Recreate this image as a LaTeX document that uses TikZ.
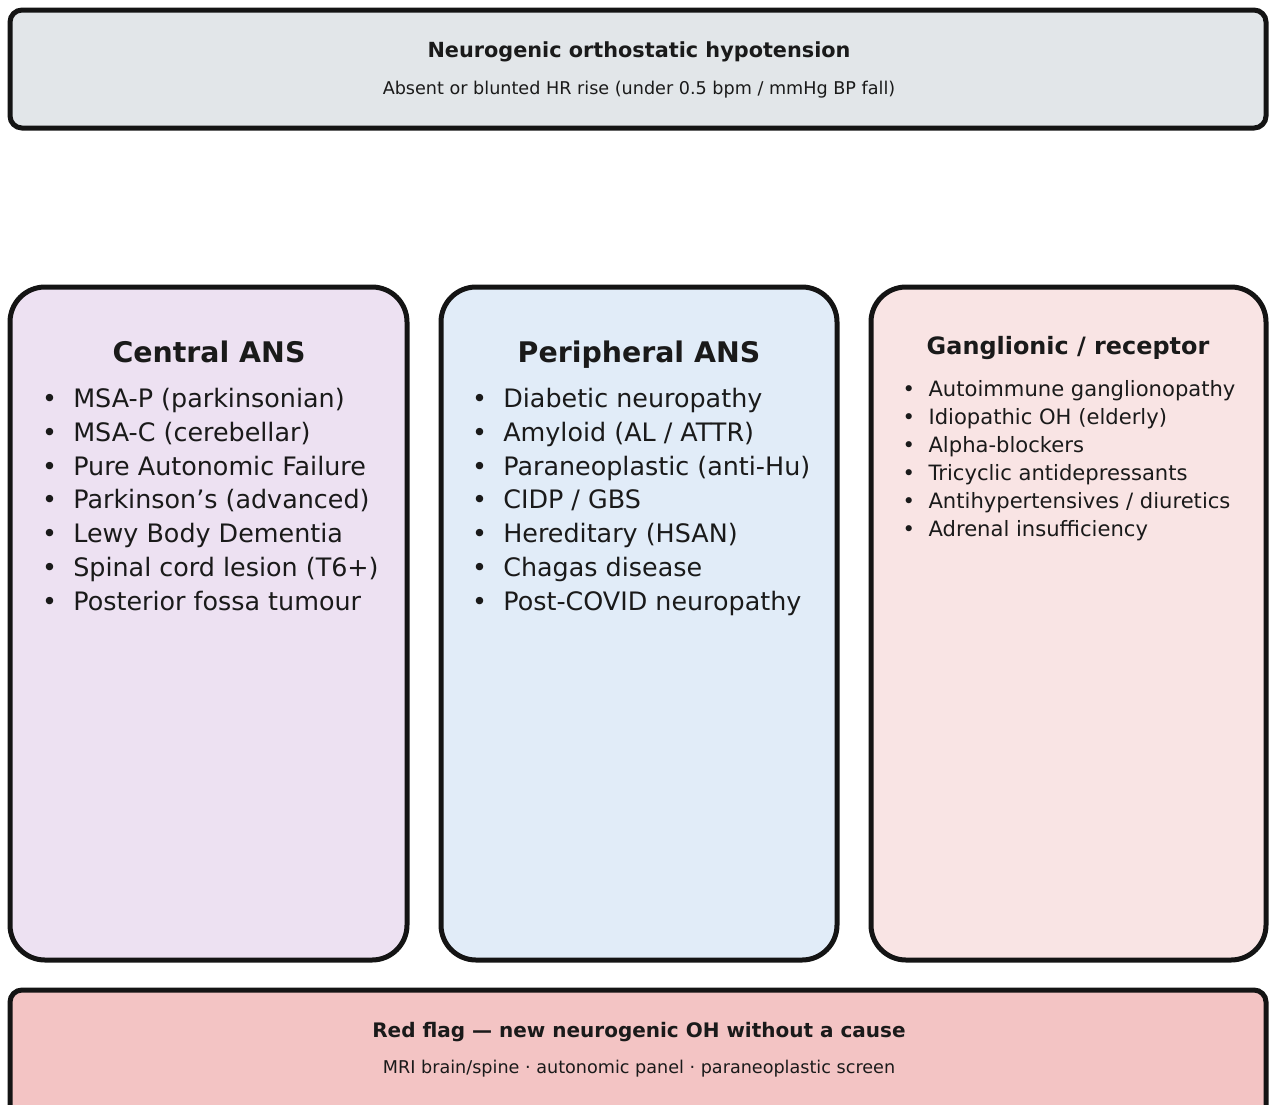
\documentclass[tikz,border=0pt]{standalone}
\usepackage{fontspec}
\setmainfont{DejaVu Sans}
\definecolor{edge}{HTML}{141414}
\definecolor{ink}{HTML}{1A1A1A}
\definecolor{topfill}{HTML}{E2E6E9}
\definecolor{cenfill}{HTML}{EDE1F2}
\definecolor{perfill}{HTML}{E1ECF8}
\definecolor{ganfill}{HTML}{F9E4E4}
\definecolor{redfill}{HTML}{F3C4C4}
\tikzset{
  panel/.style={draw=edge, line width=5pt, inner sep=0pt},
  bannerbox/.style={panel, rounded corners=12pt},
  colbox/.style={panel, rounded corners=35pt},
  headtxt/.style={anchor=base, inner sep=0pt, text=ink, font=\bfseries\fontsize{20.8}{24}\selectfont},
  redhead/.style={anchor=base, inner sep=0pt, text=ink, font=\bfseries\fontsize{20}{24}\selectfont},
  subtxt/.style={anchor=base, inner sep=0pt, text=ink, font=\fontsize{17.6}{21}\selectfont},
  coltitle/.style={anchor=base, inner sep=0pt, text=ink, font=\bfseries\fontsize{28.4}{32}\selectfont},
  smalltitle/.style={anchor=base, inner sep=0pt, text=ink, font=\bfseries\fontsize{23.9}{28}\selectfont},
  bigitem/.style={anchor=base west, inner sep=0pt, text=ink, font=\fontsize{25.4}{30}\selectfont},
  smallitem/.style={anchor=base west, inner sep=0pt, text=ink, font=\fontsize{21.1}{25}\selectfont},
}
\begin{document}
\begin{tikzpicture}[x=1pt,y=-1pt]
\useasboundingbox (0,0) rectangle (1269,1104);
\begin{scope}
\clip (0,0) rectangle (1269,1104);
% boxes
\node[bannerbox, fill=topfill, minimum width=1256pt, minimum height=118pt] (top) at (638,69) {};
\node[colbox, fill=cenfill, minimum width=397pt, minimum height=673pt] (central) at (208.5,623.5) {};
\node[colbox, fill=perfill, minimum width=396pt, minimum height=673pt] (periph) at (639,623.5) {};
\node[colbox, fill=ganfill, minimum width=395pt, minimum height=673pt] (gang) at (1068.5,623.5) {};
\node[bannerbox, fill=redfill, minimum width=1256pt, minimum height=140pt] (bottom) at (638,1060) {};
\end{scope}
% top banner text
\node[headtxt] (toptitle) at (639,57.5) {Neurogenic orthostatic hypotension};
\node[subtxt] (topsub) at (639,94) {Absent or blunted HR rise (under 0.5 bpm / mmHg BP fall)};
% column titles
\node[coltitle] (centitle) at (209,362) {Central ANS};
\node[coltitle] (pertitle) at (639,362) {Peripheral ANS};
\node[smalltitle] (gantitle) at (1068,354) {Ganglionic / receptor};
% central list
\foreach \t [count=\i] in {MSA-P (parkinsonian), MSA-C (cerebellar), Pure Autonomic Failure, Parkinson’s (advanced), Lewy Body Dementia, Spinal cord lesion (T6+), Posterior fossa tumour}
  \node[bigitem] (cen\i) at (42,{407.5+33.8*(\i-1)}) {•~~\t};
% peripheral list
\foreach \t [count=\i] in {Diabetic neuropathy, Amyloid (AL / ATTR), Paraneoplastic (anti-Hu), CIDP / GBS, Hereditary (HSAN), Chagas disease, Post-COVID neuropathy}
  \node[bigitem] (per\i) at (472,{407.5+33.8*(\i-1)}) {•~~\t};
% ganglionic list
\foreach \t [count=\i] in {Autoimmune ganglionopathy, Idiopathic OH (elderly), Alpha-blockers, Tricyclic antidepressants, Antihypertensives / diuretics, Adrenal insufficiency}
  \node[smallitem] (gan\i) at (902.5,{396+28*(\i-1)}) {•~~\t};
% bottom banner text
\node[redhead] (bottitle) at (639,1037.5) {Red flag — new neurogenic OH without a cause};
\node[subtxt] (botsub) at (639,1073) {MRI brain/spine · autonomic panel · paraneoplastic screen};
\end{tikzpicture}
\end{document}
